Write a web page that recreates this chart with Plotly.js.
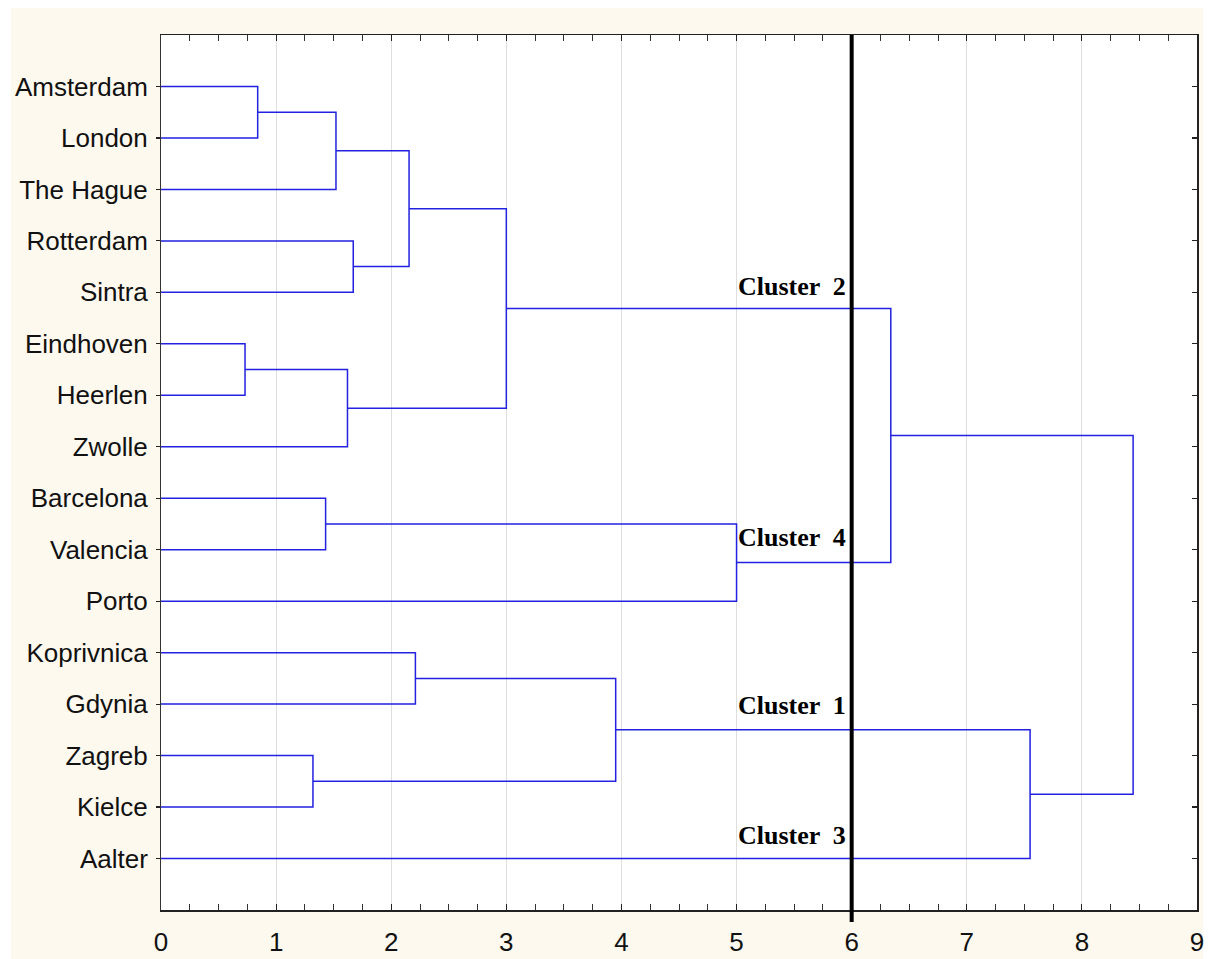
<!DOCTYPE html>
<html>
<head>
<meta charset="utf-8">
<script src="https://cdn.plot.ly/plotly-3.0.1.min.js"></script>
<style>html,body{margin:0;padding:0;background:#fff;}#chart{width:1216px;height:959px;}</style>
</head>
<body>
<div id="chart"></div>
<script>
// Leaves, top to bottom
const cities = ["Amsterdam","London","The Hague","Rotterdam","Sintra","Eindhoven","Heerlen","Zwolle",
  "Barcelona","Valencia","Porto","Koprivnica","Gdynia","Zagreb","Kielce","Aalter"];
// Linkage: node ids 0..15 are leaves, merges create 16, 17, ...
const mergeLeft   = [0, 16, 3, 17, 5, 20, 19, 8, 23, 22, 11, 13, 26, 28, 25];
const mergeRight  = [1, 2, 4, 18, 6, 7, 21, 9, 10, 24, 12, 14, 27, 15, 29];
const mergeHeight = [0.84, 1.52, 1.67, 2.155, 0.73, 1.62, 3.0, 1.43, 5.0, 6.34, 2.21, 1.32, 3.95, 7.55, 8.445];
const xTicks = [0,1,2,3,4,5,6,7,8,9];
const cutLevel = 6;
const clusterNames = ["Cluster  2","Cluster  4","Cluster  1","Cluster  3"];
const clusterRows  = [4.89, 9.76, 13.03, 15.55];

// build dendrogram segments
const nodeX = {}, nodeY = {};
cities.forEach((c,i)=>{ nodeX[i]=0; nodeY[i]=i+1; });
const lx = [], ly = [];
mergeLeft.forEach((a,k)=>{
  const b = mergeRight[k], h = mergeHeight[k], id = cities.length + k;
  lx.push(nodeX[a], h, h, nodeX[b], null);
  ly.push(nodeY[a], nodeY[a], nodeY[b], nodeY[b], null);
  nodeX[id] = h; nodeY[id] = (nodeY[a] + nodeY[b]) / 2;
});

const traces = [
  {x: lx, y: ly, type:'scatter', mode:'lines', line:{color:'#2222e0', width:1.5}, hoverinfo:'skip', showlegend:false},
  {x:[null], y:[null], yaxis:'y2', type:'scatter', mode:'lines', showlegend:false, hoverinfo:'skip'}
];

const yRange = [cities.length + 1, 0];
const layout = {
  width:1216, height:959,
  margin:{l:161, r:19, t:35, b:49},
  paper_bgcolor:'#fdf9ef', plot_bgcolor:'#ffffff',
  showlegend:false,
  font:{family:'"Liberation Sans", Arial, sans-serif', color:'#111'},
  xaxis:{
    range:[0,9], tickvals:xTicks, ticktext:xTicks.map(String),
    ticks:'inside', ticklen:6, tickwidth:1.2, tickcolor:'#222',
    minor:{dtick:0.25, ticks:'inside', ticklen:4, tickwidth:1, tickcolor:'#333', showgrid:false},
    showline:true, linecolor:'#222', linewidth:1.5, mirror:'allticks',
    showgrid:true, gridcolor:'#dedede', gridwidth:1, zeroline:false,
    tickfont:{size:26, color:'#111'}, ticklabelstandoff:8
  },
  yaxis:{
    range:yRange, tickvals:cities.map((c,i)=>i+1), ticktext:cities,
    ticks:'outside', ticklen:4, tickwidth:1.2, tickcolor:'#222',
    showline:true, linecolor:'#333', linewidth:1, showgrid:false, zeroline:false,
    tickfont:{size:26, color:'#111'}, ticklabelstandoff:3
  },
  yaxis2:{
    overlaying:'y', side:'right', range:yRange, tickvals:cities.map((c,i)=>i+1),
    ticks:'inside', ticklen:5, tickwidth:1.2, tickcolor:'#222', showticklabels:false,
    showline:true, linecolor:'#222', linewidth:1.5, showgrid:false, zeroline:false
  },
  shapes:[
    {type:'rect', xref:'paper', yref:'paper', x0:-0.2, x1:1.1, y0:1.0309, y1:1.1, fillcolor:'#ffffff', line:{width:0}, layer:'below'},
    {type:'rect', xref:'paper', yref:'paper', x0:-0.2, x1:-0.1448, y0:-0.1, y1:1.1, fillcolor:'#ffffff', line:{width:0}, layer:'below'},
    {type:'rect', xref:'paper', yref:'paper', x0:1.0058, x1:1.1, y0:-0.1, y1:1.1, fillcolor:'#ffffff', line:{width:0}, layer:'below'},
    {type:'line', xref:'x', yref:'paper', x0:cutLevel, x1:cutLevel, y0:-0.0137, y1:1.0, line:{color:'#000', width:4}}
  ],
  annotations: clusterNames.map((t,i)=>({
    text:t, x:5.97, y:clusterRows[i], xref:'x', yref:'y', xanchor:'right', yanchor:'middle',
    showarrow:false, font:{family:'"Liberation Serif", "Times New Roman", serif', size:26, color:'#000', weight:'bold'}
  }))
};

Plotly.newPlot('chart', traces, layout, {displayModeBar:false, staticPlot:true});
</script>
</body>
</html>
